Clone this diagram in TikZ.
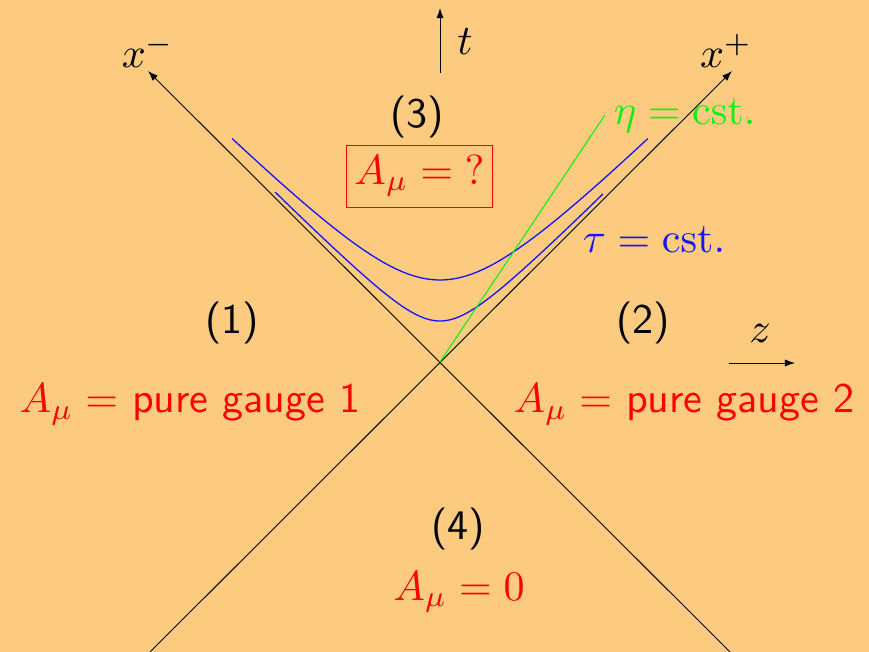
\documentclass[tikz,border=0pt]{standalone}
\usetikzlibrary{arrows.meta}
\definecolor{bg}{RGB}{252,203,128}
\definecolor{myred}{RGB}{255,0,0}
\definecolor{myblue}{RGB}{20,20,255}
\definecolor{mygreen}{RGB}{20,240,20}
\begin{document}
\begin{tikzpicture}[x=0.2378pt,y=-0.2378pt,
  font=\normalsize,
  lbl/.style={inner sep=0pt, anchor=base},
  sflbl/.style={inner sep=0pt, anchor=base, font=\normalsize\sffamily},
  redlbl/.style={inner sep=0pt, anchor=base, text=myred, font=\normalsize\sffamily},
  tip/.style={-{Latex[length=2.4pt,width=1.7pt]}},
  axisline/.style={line width=0.22pt, black},
  hyp/.style={line width=0.31pt, myblue},
  etaline/.style={line width=0.26pt, mygreen}]
\fill[bg] (0,0) rectangle (869,652);
\useasboundingbox (0,0) rectangle (869,652);
% coordinates
\coordinate (O) at (440,362);
\coordinate (xmtip) at (148,71);
\coordinate (xmend) at (730,652);
\coordinate (xptip) at (732,71);
\coordinate (xpend) at (150,652);
\coordinate (tbot) at (440,73);
\coordinate (ttop) at (440,8);
\coordinate (zl) at (729,363);
\coordinate (zr) at (795,363);
\coordinate (etaend) at (605,115);
% light cone
\draw[axisline,tip] (xmend) -- (xmtip);
\draw[axisline,tip] (xpend) -- (xptip);
\draw[axisline,tip] (tbot) -- (ttop);
\draw[axisline,tip] (zl) -- (zr);
% hyperbolas
\draw[hyp] plot[variable=\s, domain=-1.66:1.66, samples=80] ({440+82*sinh(\s)}, {362-82*cosh(\s)});
\draw[hyp] plot[variable=\s, domain=-2.1:2.09, samples=80] ({440+41*sinh(\s)}, {362-41*cosh(\s)});
% eta line
\draw[etaline] (O) -- (etaend);
% labels
\node[lbl] (lxm) at (148,68) {$x^-$};
\node[lbl] (lxp) at (726,68) {$x^+$};
\node[lbl] (lt) at (465,55) {$t$};
\node[lbl] (lz) at (760,343) {$z$};
\node[lbl, anchor=base west, text=mygreen] (leta) at (613,125) {$\eta=\mathrm{cst.}$};
\node[lbl, anchor=base west, text=myblue] (ltau) at (582,253) {$\tau=\mathrm{cst.}$};
\node[sflbl] (r3) at (417,128) {(3)};
\node[draw=myred, line width=0.22pt, text=myred, minimum width=34.5pt, minimum height=14.75pt, inner sep=0pt] (box) at (419.5,176) {$A_\mu={?}$};
\node[sflbl] (r1) at (232,334) {(1)};
\node[sflbl] (r2) at (643,334) {(2)};
\node[sflbl] (r4) at (458,540) {(4)};
\node[redlbl] (a1) at (190,413) {$A_\mu=$ pure gauge 1};
\node[redlbl] (a2) at (684,413) {$A_\mu=$ pure gauge 2};
\node[redlbl] (a4) at (459,600) {$A_\mu=0$};
\end{tikzpicture}
\end{document}
